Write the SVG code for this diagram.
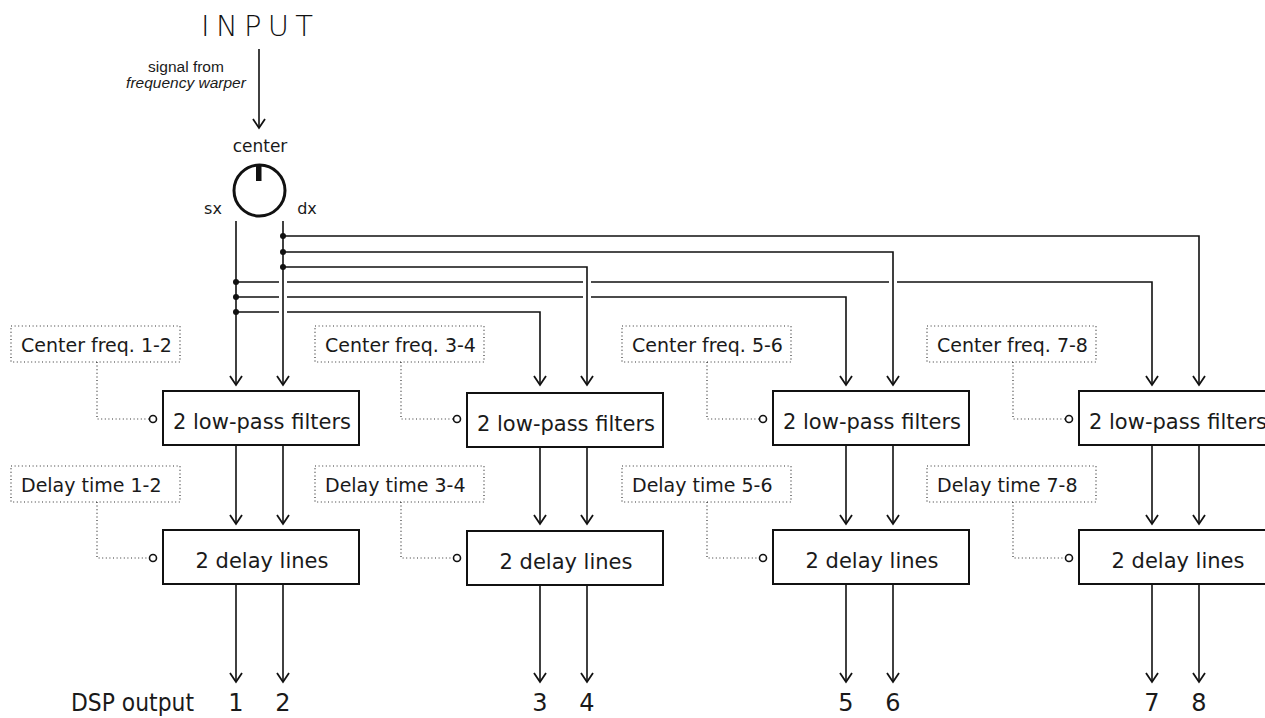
<svg xmlns="http://www.w3.org/2000/svg" width="1265" height="718" viewBox="0 0 1265 718">
<defs>
<style>
.t{font-family:"DejaVu Sans","Liberation Sans",sans-serif;fill:#1a1a1a}
.box{fill:#fff;stroke:#111;stroke-width:2}
.dbox{fill:none;stroke:#333;stroke-width:1.2;stroke-dasharray:1 2.6}
.dl{fill:none;stroke:#333;stroke-width:1.2;stroke-dasharray:1 2.6}
.port{fill:#fff;stroke:#111;stroke-width:1.6}
.w{fill:none;stroke:#111;stroke-width:1.6}
.dot{fill:#111}
.bt{font-size:21px;text-anchor:middle}
.lt{font-size:19px}
.num{font-size:24px;text-anchor:middle}
</style>
<marker id="ah" viewBox="-11 -8 13 16" refX="0" refY="0" markerWidth="13" markerHeight="16" markerUnits="userSpaceOnUse" orient="auto" overflow="visible">
<path d="M-9,-6 L0,0 L-9,6" fill="none" stroke="#111" stroke-width="1.8"/>
</marker>
</defs>
<rect width="1265" height="718" fill="#fff"/>

<g id="input">
<text class="t" x="201" y="36" font-size="29" font-weight="300" textLength="112" lengthAdjust="spacing" style="fill:#111">INPUT</text>
<text class="t" x="186" y="72" font-size="15.5" text-anchor="middle" style="font-family:'Liberation Sans',sans-serif">signal from</text>
<text class="t" x="186" y="88" font-size="15.5" font-style="italic" text-anchor="middle" style="font-family:'Liberation Sans',sans-serif">frequency warper</text>
</g>

<g id="knob">
<text class="t" x="260" y="152" font-size="17" text-anchor="middle">center</text>
<circle cx="259.5" cy="190.5" r="25.5" fill="#fff" stroke="#111" stroke-width="3"/>
<rect x="256" y="164" width="5.5" height="17" fill="#111"/>
<text class="t" x="213" y="214" font-size="16" text-anchor="middle">sx</text>
<text class="t" x="307" y="214" font-size="16" text-anchor="middle">dx</text>
</g>

<g id="connectors">
<path class="w" d="M259,49 V128" marker-end="url(#ah)"/>
<path class="w" d="M236,221 V385" marker-end="url(#ah)"/>
<path class="w" d="M283,221 V385" marker-end="url(#ah)"/>
<path class="w" d="M283,236 H1199 V385" marker-end="url(#ah)"/>
<path class="w" d="M283,252 H893 V385" marker-end="url(#ah)"/>
<path class="w" d="M283,267 H587 V385" marker-end="url(#ah)"/>
<path class="w" d="M236,282 H279 M287,282 H583 M591,282 H889 M897,282 H1152 V385" marker-end="url(#ah)"/>
<path class="w" d="M236,297 H279 M287,297 H583 M591,297 H846 V385" marker-end="url(#ah)"/>
<path class="w" d="M236,312 H279 M287,312 H540 V385" marker-end="url(#ah)"/>
<circle class="dot" cx="283" cy="236" r="3"/>
<circle class="dot" cx="283" cy="252" r="3"/>
<circle class="dot" cx="283" cy="267" r="3"/>
<circle class="dot" cx="236" cy="282" r="3"/>
<circle class="dot" cx="236" cy="297" r="3"/>
<circle class="dot" cx="236" cy="312" r="3"/>

<path class="w" d="M236,445 V524" marker-end="url(#ah)"/>
<path class="w" d="M283,445 V524" marker-end="url(#ah)"/>
<path class="w" d="M540,447 V524" marker-end="url(#ah)"/>
<path class="w" d="M587,447 V524" marker-end="url(#ah)"/>
<path class="w" d="M846,445 V524" marker-end="url(#ah)"/>
<path class="w" d="M893,445 V524" marker-end="url(#ah)"/>
<path class="w" d="M1152,445 V524" marker-end="url(#ah)"/>
<path class="w" d="M1199,445 V524" marker-end="url(#ah)"/>

<path class="w" d="M236,584 V682" marker-end="url(#ah)"/>
<path class="w" d="M283,584 V682" marker-end="url(#ah)"/>
<path class="w" d="M540,585 V682" marker-end="url(#ah)"/>
<path class="w" d="M587,585 V682" marker-end="url(#ah)"/>
<path class="w" d="M846,584 V682" marker-end="url(#ah)"/>
<path class="w" d="M893,584 V682" marker-end="url(#ah)"/>
<path class="w" d="M1152,584 V682" marker-end="url(#ah)"/>
<path class="w" d="M1199,584 V682" marker-end="url(#ah)"/>

<path class="dl" d="M97,362 V419 H149"/>
<path class="dl" d="M97,502 V558 H149"/>
<path class="dl" d="M401,362 V419 H453"/>
<path class="dl" d="M401,502 V558 H453"/>
<path class="dl" d="M707,362 V419 H759"/>
<path class="dl" d="M707,502 V558 H759"/>
<path class="dl" d="M1013,362 V419 H1065"/>
<path class="dl" d="M1013,502 V558 H1065"/>
</g>

<g id="col1">
<rect class="dbox" x="11" y="326" width="169" height="36"/>
<text class="t lt" x="21" y="352">Center freq. 1-2</text>
<rect class="dbox" x="11" y="466" width="169" height="36"/>
<text class="t lt" x="21" y="492">Delay time 1-2</text>
<circle class="port" cx="153" cy="419" r="3.5"/>
<circle class="port" cx="153" cy="558" r="3.5"/>
<rect class="box" x="163" y="391" width="196" height="54"/>
<text class="t bt" x="262" y="429">2 low-pass filters</text>
<rect class="box" x="163" y="530" width="196" height="54"/>
<text class="t bt" x="262" y="568">2 delay lines</text>
</g>

<g id="col2">
<rect class="dbox" x="315" y="326" width="169" height="36"/>
<text class="t lt" x="325" y="352">Center freq. 3-4</text>
<rect class="dbox" x="315" y="466" width="169" height="36"/>
<text class="t lt" x="325" y="492">Delay time 3-4</text>
<circle class="port" cx="457" cy="419" r="3.5"/>
<circle class="port" cx="457" cy="558" r="3.5"/>
<rect class="box" x="467" y="393" width="196" height="54"/>
<text class="t bt" x="566" y="431">2 low-pass filters</text>
<rect class="box" x="467" y="531" width="196" height="54"/>
<text class="t bt" x="566" y="569">2 delay lines</text>
</g>

<g id="col3">
<rect class="dbox" x="622" y="326" width="169" height="36"/>
<text class="t lt" x="632" y="352">Center freq. 5-6</text>
<rect class="dbox" x="622" y="466" width="169" height="36"/>
<text class="t lt" x="632" y="492">Delay time 5-6</text>
<circle class="port" cx="763" cy="419" r="3.5"/>
<circle class="port" cx="763" cy="558" r="3.5"/>
<rect class="box" x="773" y="391" width="196" height="54"/>
<text class="t bt" x="872" y="429">2 low-pass filters</text>
<rect class="box" x="773" y="530" width="196" height="54"/>
<text class="t bt" x="872" y="568">2 delay lines</text>
</g>

<g id="col4">
<rect class="dbox" x="927" y="326" width="169" height="36"/>
<text class="t lt" x="937" y="352">Center freq. 7-8</text>
<rect class="dbox" x="927" y="466" width="169" height="36"/>
<text class="t lt" x="937" y="492">Delay time 7-8</text>
<circle class="port" cx="1069" cy="419" r="3.5"/>
<circle class="port" cx="1069" cy="558" r="3.5"/>
<rect class="box" x="1079" y="391" width="196" height="54"/>
<text class="t bt" x="1178" y="429">2 low-pass filters</text>
<rect class="box" x="1079" y="530" width="196" height="54"/>
<text class="t bt" x="1178" y="568">2 delay lines</text>
</g>

<g id="outputs">
<text class="t" x="71" y="711" font-size="24" textLength="123" lengthAdjust="spacingAndGlyphs">DSP output</text>
<text class="t num" x="236" y="711">1</text>
<text class="t num" x="283" y="711">2</text>
<text class="t num" x="540" y="711">3</text>
<text class="t num" x="587" y="711">4</text>
<text class="t num" x="846" y="711">5</text>
<text class="t num" x="893" y="711">6</text>
<text class="t num" x="1152" y="711">7</text>
<text class="t num" x="1199" y="711">8</text>
</g>
</svg>
